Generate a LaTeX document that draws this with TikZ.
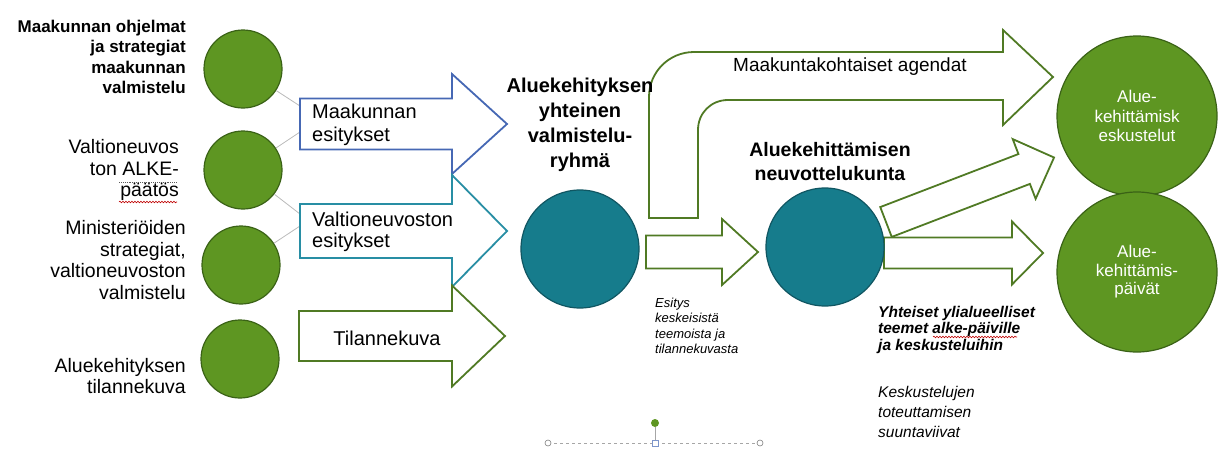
\documentclass[tikz,border=0pt]{standalone}
\usepackage{fontspec}
\setmainfont{Liberation Sans}
\usetikzlibrary{calc,decorations.pathmorphing}

\definecolor{lehti}{RGB}{94,150,34}
\definecolor{lehtireuna}{RGB}{58,98,22}
\definecolor{petroli}{RGB}{22,124,140}
\definecolor{petrolireuna}{RGB}{16,86,98}
\definecolor{sininen}{RGB}{70,104,180}
\definecolor{turkoosi}{RGB}{40,142,164}
\definecolor{oliivi}{RGB}{80,122,36}

% Nuoli: #1 tyyli, #2 kanta, #3 kulma, #4 pituus, #5 varren leveys, #6 karjen leveys, #7 karjen pituus
\newcommand{\nuoli}[7]{%
  \begin{scope}[shift={#2},rotate=#3]
    \draw[#1] (0,-#5/2) -- (#4-#7,-#5/2) -- (#4-#7,-#6/2) -- (#4,0)
      -- (#4-#7,#6/2) -- (#4-#7,#5/2) -- (0,#5/2) -- cycle;
  \end{scope}}

\begin{document}
\begin{tikzpicture}[x=1pt,y=-1pt,
  vihrea/.style={circle,draw=lehtireuna,fill=lehti,line width=1.2pt,minimum size=78pt,inner sep=0pt},
  petrolipallo/.style={circle,draw=petrolireuna,fill=petroli,line width=1.2pt,minimum size=118pt,inner sep=0pt},
  isopallo/.style={circle,draw=lehtireuna,fill=lehti,line width=1.2pt,minimum size=160pt,inner sep=0pt,
    text=white,align=center,font=\fontsize{17}{19.5}\selectfont},
  vasen/.style={anchor=east,align=right,inner sep=0pt,font=\fontsize{19.5}{21.5}\selectfont},
  nuoliteksti/.style={anchor=west,align=left,inner sep=0pt,font=\fontsize{20}{23}\selectfont},
  otsikko/.style={align=center,inner sep=0pt,font=\bfseries\fontsize{20}{25}\selectfont},
  kursiivi/.style={anchor=north west,align=left,inner sep=0pt},
  yhteys/.style={gray!55,line width=0.8pt},
  kehys/.style={fill=white,line width=1.8pt,line join=miter}]

  % Pohja
  \useasboundingbox (0,0) rectangle (1221,453);

  % Vasemman reunan lahtotiedot
  \node[vihrea] (m1) at (243,69) {};
  \node[vihrea] (m2) at (243,170) {};
  \node[vihrea] (m3) at (241,265) {};
  \node[vihrea] (m4) at (240,359) {};

  \node[vasen,font=\bfseries\fontsize{17}{20.5}\selectfont] (t1) at (186,57)
    {Maakunnan ohjelmat\\ja strategiat\\maakunnan\\valmistelu};
  \node[vasen] (t2) at (179,170) {Valtioneuvos\\ton ALKE-\\päätös};
  \node[vasen] (t3) at (186,260) {Ministeriöiden\\strategiat,\\valtioneuvoston\\valmistelu};
  \node[vasen] (t4) at (186,376) {Aluekehityksen\\tilannekuva};

  % Oikolukuviivat
  \draw[gray!70!black,densely dotted,line width=0.9pt] (119,182) -- (177,182);
  \draw[red!75!black,line width=0.6pt,decorate,decoration={snake,amplitude=0.8pt,segment length=3pt}]
    (119,202) -- (177,202);

  % Yhteydet palloista nuoliin
  \coordinate (p1) at (300,106);
  \coordinate (p2) at (300,132);
  \coordinate (p3) at (300,214);
  \coordinate (p4) at (300,226);
  \draw[yhteys] (m1) -- (p1);
  \draw[yhteys] (m2) -- (p2);
  \draw[yhteys] (m2) -- (p3);
  \draw[yhteys] (m3) -- (p4);

  % Esitysnuolet
  \nuoli{kehys,draw=sininen}{(300,124)}{0}{207}{51}{100}{55}
  \nuoli{kehys,draw=turkoosi}{(300,231)}{0}{207}{54}{112}{55}
  \nuoli{kehys,draw=oliivi}{(299,336)}{0}{206}{50}{101}{53}

  \node[nuoliteksti] (e1) at (312,125) {Maakunnan\\esitykset};
  \node[nuoliteksti,font=\fontsize{20}{21.5}\selectfont] (e2) at (312,232) {Valtioneuvoston\\esitykset};
  \node[font=\fontsize{20}{24}\selectfont,inner sep=0pt] (e3) at (387,338) {Tilannekuva};

  % Kaareva nuoli ylos
  \draw[kehys,draw=oliivi] (649,218) -- (649,97) .. controls (649,72) and (669,52) .. (694,52)
    -- (1003,52) -- (1003,30) -- (1053,77) -- (1003,125) -- (1003,100) -- (728,100)
    .. controls (711,100) and (698,113) .. (698,130) -- (698,218) -- cycle;
  \node[anchor=west,inner sep=0pt,font=\fontsize{19}{22}\selectfont] (agenda) at (733,67)
    {Maakuntakohtaiset agendat};

  % Muut vihreat nuolet
  \nuoli{kehys,draw=oliivi}{(646,252)}{0}{112}{33}{66}{36}
  \nuoli{kehys,draw=oliivi}{(886,222)}{21}{180}{32}{64}{32}
  \nuoli{kehys,draw=oliivi}{(884,253)}{0}{159}{31}{63}{31}

  % Valmisteluryhma ja neuvottelukunta
  \node[petrolipallo] (v1) at (580,249) {};
  \node[petrolipallo] (v2) at (825,247) {};
  \node[otsikko] (r1) at (580,125) {Aluekehityksen\\yhteinen\\valmistelu-\\ryhmä};
  \node[otsikko,font=\bfseries\fontsize{19.5}{24}\selectfont] (r2) at (830,162)
    {Aluekehittämisen\\neuvottelukunta};

  % Lopputulokset
  \node[isopallo] (o1) at (1137,116) {Alue-\\kehittämisk\\eskustelut};
  \node[isopallo,font=\fontsize{17}{18.5}\selectfont] (o2) at (1137,272) {Alue-\\kehittämis-\\päivät};

  % Kursiivit
  \node[kursiivi,font=\itshape\fontsize{13}{15.2}\selectfont] (k1) at (655,298)
    {Esitys\\keskeisistä\\teemoista ja\\tilannekuvasta};
  \node[kursiivi,font=\bfseries\itshape\fontsize{15.5}{16.3}\selectfont] (k2) at (878,306)
    {Yhteiset ylialueelliset\\teemet alke-päiville\\ja keskusteluihin};
  \draw[red!75!black,line width=0.6pt,decorate,decoration={snake,amplitude=0.8pt,segment length=3pt}]
    (933,337) -- (1017,337);
  \node[kursiivi,font=\itshape\fontsize{15.5}{20}\selectfont] (k3) at (878,386)
    {Keskustelujen\\toteuttamisen\\suuntaviivat};

  % Valintakehyksen jaanne alareunassa
  \draw[gray!70,dashed,line width=0.6pt] (548,443) -- (760,443);
  \draw[gray!70,line width=0.6pt] (655,427) -- (655,440);
  \fill[lehti] (655,423) circle (4);
  \draw[gray,fill=white,line width=0.6pt] (548,443) circle (3) (760,443) circle (3);
  \draw[sininen!70,fill=white,line width=0.6pt] (652,440) rectangle (658,446);

\end{tikzpicture}
\end{document}
